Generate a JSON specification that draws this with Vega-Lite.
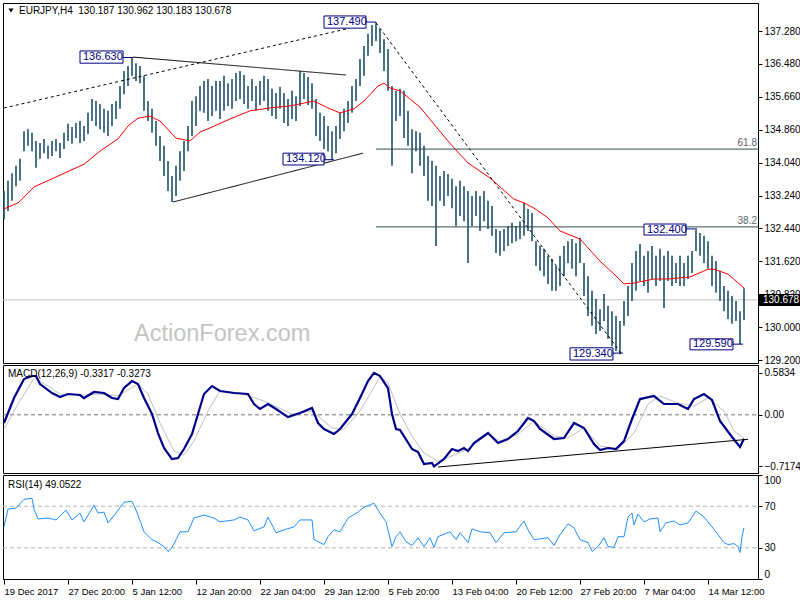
{
"$schema": "https://vega.github.io/schema/vega-lite/v6.json",
"padding": {"left": -1, "top": 2, "right": 0, "bottom": 0},
"background": "white",
"spacing": 2,
"bounds": "flush",
"config": {
  "view": {"stroke": "black", "strokeWidth": 1},
  "axis": {"domainColor": "black", "tickColor": "black", "labelColor": "black", "labelFont": "Liberation Sans", "labelFontSize": 10, "tickSize": 4, "labelPadding": 2, "grid": false, "labelOverlap": false},
  "text": {"font": "Liberation Sans"}
},
"datasets": {
  "bars": [
    {"i":0,"h":133.35,"l":132.66},{"i":2,"h":133.60,"l":132.86},{"i":4,"h":133.79,"l":133.11},{"i":6,"h":133.97,"l":133.47},{"i":8,"h":134.14,"l":133.60},
    {"i":10,"h":134.82,"l":134.33},{"i":12,"h":134.87,"l":134.46},{"i":14,"h":134.78,"l":134.33},{"i":16,"h":134.58,"l":133.92},{"i":18,"h":134.53,"l":134.14},
    {"i":20,"h":134.63,"l":134.28},{"i":22,"h":134.46,"l":134.14},{"i":24,"h":134.58,"l":134.21},{"i":26,"h":134.63,"l":134.33},{"i":28,"h":134.53,"l":134.16},
    {"i":30,"h":134.78,"l":134.38},{"i":32,"h":135.00,"l":134.58},{"i":34,"h":134.92,"l":134.51},{"i":36,"h":135.02,"l":134.65},{"i":38,"h":135.07,"l":134.53},
    {"i":40,"h":134.95,"l":134.58},{"i":42,"h":135.27,"l":134.75},{"i":44,"h":135.61,"l":135.07},{"i":46,"h":135.56,"l":134.95},{"i":48,"h":135.49,"l":134.87},
    {"i":50,"h":135.37,"l":134.78},{"i":52,"h":135.32,"l":134.70},{"i":54,"h":135.49,"l":134.95},{"i":56,"h":135.56,"l":135.12},{"i":58,"h":135.93,"l":135.37},
    {"i":60,"h":136.30,"l":135.73},{"i":62,"h":136.42,"l":135.93},{"i":64,"h":136.63,"l":136.18},{"i":66,"h":136.49,"l":136.05},{"i":68,"h":136.42,"l":136.00},
    {"i":70,"h":136.18,"l":135.32},{"i":72,"h":135.56,"l":135.07},{"i":74,"h":135.37,"l":134.78},{"i":76,"h":135.07,"l":134.46},{"i":78,"h":134.70,"l":134.09},
    {"i":80,"h":134.46,"l":133.72},{"i":82,"h":134.09,"l":133.35},{"i":84,"h":133.72,"l":133.08},{"i":86,"h":133.97,"l":133.23},{"i":88,"h":134.33,"l":133.60},
    {"i":90,"h":134.58,"l":133.84},{"i":92,"h":134.95,"l":134.33},{"i":94,"h":135.56,"l":134.70},{"i":96,"h":135.68,"l":134.95},{"i":98,"h":135.93,"l":135.32},
    {"i":100,"h":136.05,"l":135.27},{"i":102,"h":136.10,"l":135.07},{"i":104,"h":135.93,"l":135.19},{"i":106,"h":136.05,"l":135.32},{"i":108,"h":136.05,"l":135.12},
    {"i":110,"h":136.18,"l":135.32},{"i":112,"h":136.00,"l":135.44},{"i":114,"h":136.10,"l":135.37},{"i":116,"h":136.25,"l":135.56},{"i":118,"h":136.30,"l":135.61},
    {"i":120,"h":136.20,"l":135.49},{"i":122,"h":135.93,"l":135.37},{"i":124,"h":136.10,"l":135.56},{"i":126,"h":135.93,"l":135.32},{"i":128,"h":136.05,"l":135.46},
    {"i":130,"h":136.18,"l":135.56},{"i":132,"h":136.10,"l":135.32},{"i":134,"h":135.86,"l":135.19},{"i":136,"h":135.76,"l":135.12},{"i":138,"h":135.91,"l":135.37},
    {"i":140,"h":135.76,"l":135.02},{"i":142,"h":135.61,"l":134.95},{"i":144,"h":135.81,"l":135.12},{"i":146,"h":135.68,"l":135.07},{"i":148,"h":136.30,"l":135.44},
    {"i":150,"h":136.25,"l":135.61},{"i":152,"h":136.15,"l":135.46},{"i":154,"h":136.00,"l":135.37},{"i":156,"h":135.61,"l":134.70},{"i":158,"h":135.27,"l":134.58},
    {"i":160,"h":135.19,"l":134.38},{"i":162,"h":134.95,"l":134.33},{"i":164,"h":134.82,"l":134.12},{"i":166,"h":134.95,"l":134.28},{"i":168,"h":135.27,"l":134.63},
    {"i":170,"h":135.37,"l":134.82},{"i":172,"h":135.56,"l":135.02},{"i":174,"h":135.93,"l":135.27},{"i":176,"h":136.10,"l":135.56},{"i":178,"h":136.59,"l":135.93},
    {"i":180,"h":136.91,"l":136.18},{"i":182,"h":137.21,"l":136.67},{"i":184,"h":137.43,"l":136.91},{"i":186,"h":137.49,"l":137.03},{"i":188,"h":137.33,"l":136.74},
    {"i":190,"h":137.08,"l":136.30},{"i":192,"h":136.84,"l":135.81},{"i":194,"h":135.93,"l":133.97},{"i":196,"h":135.81,"l":135.07},{"i":198,"h":135.86,"l":135.19},
    {"i":200,"h":135.81,"l":134.65},{"i":202,"h":135.32,"l":134.46},{"i":204,"h":134.87,"l":133.79},{"i":206,"h":134.82,"l":134.33},{"i":208,"h":134.78,"l":133.97},
    {"i":210,"h":134.46,"l":133.72},{"i":212,"h":134.21,"l":133.11},{"i":214,"h":134.09,"l":132.98},{"i":216,"h":133.97,"l":132.00},{"i":218,"h":133.72,"l":133.11},
    {"i":220,"h":133.84,"l":132.98},{"i":222,"h":133.77,"l":133.23},{"i":224,"h":133.65,"l":132.93},{"i":226,"h":133.47,"l":132.49},{"i":228,"h":133.60,"l":132.74},
    {"i":230,"h":133.47,"l":132.61},{"i":232,"h":133.35,"l":131.58},{"i":234,"h":133.23,"l":132.49},{"i":236,"h":133.35,"l":132.74},{"i":238,"h":133.23,"l":132.37},
    {"i":240,"h":133.35,"l":132.61},{"i":242,"h":133.11,"l":132.42},{"i":244,"h":132.98,"l":132.25},{"i":246,"h":132.42,"l":131.83},{"i":248,"h":132.37,"l":131.76},
    {"i":250,"h":132.42,"l":131.88},{"i":252,"h":132.49,"l":132.00},{"i":254,"h":132.57,"l":132.07},{"i":256,"h":132.49,"l":132.12},{"i":258,"h":132.61,"l":132.17},
    {"i":260,"h":133.06,"l":132.25},{"i":262,"h":132.91,"l":132.37},{"i":264,"h":132.81,"l":132.12},{"i":266,"h":132.12,"l":131.51},{"i":268,"h":132.00,"l":131.39},
    {"i":270,"h":131.93,"l":131.26},{"i":272,"h":131.76,"l":131.07},{"i":274,"h":131.68,"l":130.90},{"i":276,"h":131.51,"l":130.90},{"i":278,"h":131.76,"l":131.02},
    {"i":280,"h":132.00,"l":131.26},{"i":282,"h":132.12,"l":131.58},{"i":284,"h":132.17,"l":131.44},{"i":286,"h":132.07,"l":131.26},{"i":288,"h":132.20,"l":131.58},
    {"i":290,"h":131.58,"l":130.77},{"i":292,"h":131.26,"l":130.28},{"i":294,"h":130.90,"l":130.04},{"i":296,"h":130.70,"l":129.84},{"i":298,"h":130.45,"l":129.91},
    {"i":300,"h":130.82,"l":130.16},{"i":302,"h":130.53,"l":129.72},{"i":304,"h":130.40,"l":129.54},{"i":306,"h":130.28,"l":129.42},{"i":308,"h":130.16,"l":129.34},
    {"i":310,"h":130.65,"l":130.04},{"i":312,"h":131.02,"l":130.28},{"i":314,"h":131.58,"l":130.65},{"i":316,"h":131.88,"l":130.90},{"i":318,"h":132.05,"l":131.14},
    {"i":320,"h":131.76,"l":131.02},{"i":322,"h":131.88,"l":130.85},{"i":324,"h":132.00,"l":131.19},{"i":326,"h":131.76,"l":131.02},{"i":328,"h":131.93,"l":131.14},
    {"i":330,"h":131.76,"l":130.48},{"i":332,"h":131.88,"l":131.14},{"i":334,"h":131.76,"l":131.02},{"i":336,"h":131.58,"l":131.09},{"i":338,"h":131.76,"l":131.02},
    {"i":340,"h":131.58,"l":131.02},{"i":342,"h":131.76,"l":131.19},{"i":344,"h":131.88,"l":131.34},{"i":346,"h":132.40,"l":131.88},{"i":348,"h":132.32,"l":131.76},
    {"i":350,"h":132.25,"l":131.58},{"i":352,"h":132.12,"l":131.44},{"i":354,"h":131.76,"l":131.02},{"i":356,"h":131.63,"l":130.85},{"i":358,"h":131.39,"l":130.65},
    {"i":360,"h":131.02,"l":130.40},{"i":362,"h":130.90,"l":130.21},{"i":364,"h":130.77,"l":130.09},{"i":366,"h":130.65,"l":130.16},{"i":368,"h":130.40,"l":129.59},
    {"i":370,"h":130.962,"l":130.183}
  ],
  "ma": [
    {"i":0,"p":132.91},{"i":7,"p":133.06},{"i":15,"p":133.45},{"i":28,"p":133.74},{"i":40,"p":134.01},{"i":48,"p":134.33},{"i":57,"p":134.63},{"i":62,"p":134.95},
    {"i":67,"p":135.14},{"i":73,"p":135.19},{"i":78,"p":135.07},{"i":86,"p":134.65},{"i":93,"p":134.58},{"i":98,"p":134.80},{"i":103,"p":134.90},{"i":113,"p":135.12},
    {"i":123,"p":135.32},{"i":133,"p":135.39},{"i":143,"p":135.44},{"i":155,"p":135.56},{"i":162,"p":135.39},{"i":168,"p":135.27},{"i":175,"p":135.37},{"i":180,"p":135.56},
    {"i":187,"p":135.93},{"i":190,"p":136.00},{"i":193,"p":135.88},{"i":198,"p":135.81},{"i":208,"p":135.41},{"i":215,"p":134.99},{"i":222,"p":134.58},{"i":225,"p":134.41},
    {"i":232,"p":134.04},{"i":243,"p":133.67},{"i":255,"p":133.15},{"i":260,"p":133.06},{"i":265,"p":132.93},{"i":272,"p":132.69},{"i":278,"p":132.37},{"i":288,"p":132.17},
    {"i":298,"p":131.63},{"i":305,"p":131.31},{"i":310,"p":131.07},{"i":315,"p":131.09},{"i":325,"p":131.19},{"i":332,"p":131.19},{"i":343,"p":131.24},{"i":352,"p":131.43},
    {"i":355,"p":131.43},{"i":362,"p":131.31},{"i":370,"p":130.97}
  ],
  "macd": [
    {"i":0,"v":-0.114},{"i":5,"v":0.233},{"i":10,"v":0.497},{"i":14,"v":0.539},{"i":16,"v":0.539},{"i":18,"v":0.428},{"i":24,"v":0.303},{"i":28,"v":0.247},
    {"i":32,"v":0.289},{"i":38,"v":0.275},{"i":40,"v":0.233},{"i":45,"v":0.317},{"i":50,"v":0.303},{"i":54,"v":0.233},{"i":57,"v":0.219},{"i":60,"v":0.372},
    {"i":64,"v":0.469},{"i":67,"v":0.428},{"i":70,"v":0.233},{"i":74,"v":0.011},{"i":77,"v":-0.253},{"i":80,"v":-0.461},{"i":84,"v":-0.614},{"i":87,"v":-0.600},
    {"i":90,"v":-0.475},{"i":94,"v":-0.267},{"i":97,"v":0.011},{"i":100,"v":0.289},{"i":104,"v":0.400},{"i":108,"v":0.331},{"i":115,"v":0.303},{"i":122,"v":0.289},
    {"i":125,"v":0.150},{"i":128,"v":0.081},{"i":132,"v":0.150},{"i":136,"v":0.081},{"i":142,"v":-0.031},{"i":148,"v":0.025},{"i":154,"v":0.094},{"i":157,"v":-0.114},
    {"i":160,"v":-0.197},{"i":165,"v":-0.267},{"i":168,"v":-0.197},{"i":174,"v":0.011},{"i":178,"v":0.233},{"i":182,"v":0.469},{"i":185,"v":0.583},{"i":188,"v":0.539},
    {"i":192,"v":0.372},{"i":194,"v":0.011},{"i":196,"v":-0.197},{"i":198,"v":-0.211},{"i":204,"v":-0.475},{"i":207,"v":-0.517},{"i":210,"v":-0.683},{"i":214,"v":-0.669},
    {"i":215,"v":-0.717},{"i":220,"v":-0.614},{"i":224,"v":-0.475},{"i":227,"v":-0.503},{"i":230,"v":-0.461},{"i":232,"v":-0.503},{"i":235,"v":-0.392},{"i":242,"v":-0.253},
    {"i":247,"v":-0.392},{"i":252,"v":-0.336},{"i":257,"v":-0.225},{"i":262,"v":-0.044},{"i":265,"v":-0.086},{"i":268,"v":-0.197},{"i":275,"v":-0.336},{"i":280,"v":-0.322},
    {"i":285,"v":-0.114},{"i":290,"v":-0.183},{"i":295,"v":-0.406},{"i":298,"v":-0.489},{"i":302,"v":-0.461},{"i":306,"v":-0.475},{"i":310,"v":-0.364},{"i":314,"v":-0.058},
    {"i":318,"v":0.219},{"i":325,"v":0.261},{"i":330,"v":0.150},{"i":337,"v":0.150},{"i":342,"v":0.081},{"i":345,"v":0.219},{"i":350,"v":0.289},{"i":354,"v":0.206},
    {"i":358,"v":-0.086},{"i":364,"v":-0.308},{"i":368,"v":-0.447},{"i":370,"v":-0.332}
  ],
  "sig": [
    {"i":0,"v":-0.197},{"i":7,"v":0.150},{"i":15,"v":0.511},{"i":22,"v":0.400},{"i":28,"v":0.289},{"i":40,"v":0.275},{"i":48,"v":0.289},{"i":57,"v":0.261},
    {"i":67,"v":0.428},{"i":72,"v":0.289},{"i":78,"v":-0.114},{"i":85,"v":-0.503},{"i":90,"v":-0.558},{"i":95,"v":-0.364},{"i":102,"v":0.053},{"i":108,"v":0.331},
    {"i":118,"v":0.303},{"i":130,"v":0.192},{"i":144,"v":0.011},{"i":154,"v":0.053},{"i":164,"v":-0.183},{"i":170,"v":-0.197},{"i":178,"v":0.053},{"i":188,"v":0.525},
    {"i":192,"v":0.442},{"i":198,"v":0.011},{"i":204,"v":-0.294},{"i":210,"v":-0.531},{"i":217,"v":-0.642},{"i":224,"v":-0.572},{"i":232,"v":-0.475},{"i":242,"v":-0.267},
    {"i":248,"v":-0.364},{"i":257,"v":-0.267},{"i":265,"v":-0.086},{"i":275,"v":-0.294},{"i":282,"v":-0.322},{"i":290,"v":-0.183},{"i":298,"v":-0.433},{"i":307,"v":-0.475},
    {"i":315,"v":-0.253},{"i":322,"v":0.150},{"i":328,"v":0.261},{"i":337,"v":0.164},{"i":345,"v":0.122},{"i":352,"v":0.233},{"i":360,"v":0.053},{"i":365,"v":-0.225},
    {"i":370,"v":-0.327}
  ],
  "rsi": [
    {"i":0,"r":50.1},{"i":2,"r":67.2},{"i":6,"r":68.1},{"i":10,"r":76.6},{"i":14,"r":77.6},{"i":15,"r":67.2},{"i":17,"r":57.7},{"i":22,"r":58.6},{"i":26,"r":56.8},
    {"i":31,"r":66.2},{"i":34,"r":56.8},{"i":38,"r":63.4},{"i":40,"r":54.9},{"i":45,"r":70.9},{"i":47,"r":63.4},{"i":50,"r":64.3},{"i":52,"r":53.9},{"i":56,"r":63.4},
    {"i":60,"r":73.8},{"i":64,"r":74.7},{"i":65,"r":70.9},{"i":67,"r":61.5},{"i":70,"r":45.4},{"i":74,"r":37.8},{"i":77,"r":35.0},{"i":80,"r":31.2},{"i":82,"r":26.5},
    {"i":84,"r":30.3},{"i":86,"r":37.8},{"i":88,"r":45.4},{"i":92,"r":45.4},{"i":95,"r":58.6},{"i":100,"r":61.5},{"i":105,"r":58.6},{"i":108,"r":54.9},{"i":115,"r":56.8},
    {"i":118,"r":59.6},{"i":122,"r":56.8},{"i":125,"r":46.3},{"i":130,"r":50.1},{"i":132,"r":59.6},{"i":136,"r":44.5},{"i":140,"r":47.3},{"i":145,"r":50.1},{"i":148,"r":56.8},
    {"i":154,"r":56.8},{"i":155,"r":37.8},{"i":160,"r":33.1},{"i":162,"r":40.7},{"i":165,"r":47.3},{"i":168,"r":45.4},{"i":172,"r":58.6},{"i":177,"r":64.3},{"i":180,"r":69.1},
    {"i":185,"r":72.8},{"i":188,"r":63.4},{"i":191,"r":54.9},{"i":194,"r":31.2},{"i":196,"r":40.7},{"i":198,"r":45.4},{"i":201,"r":35.9},{"i":204,"r":32.2},{"i":207,"r":39.7},
    {"i":210,"r":31.2},{"i":213,"r":39.7},{"i":215,"r":30.3},{"i":217,"r":40.7},{"i":223,"r":45.4},{"i":226,"r":37.8},{"i":228,"r":44.5},{"i":232,"r":35.0},{"i":234,"r":48.2},
    {"i":238,"r":45.4},{"i":243,"r":44.5},{"i":246,"r":35.0},{"i":250,"r":44.5},{"i":256,"r":45.4},{"i":260,"r":55.8},{"i":262,"r":47.3},{"i":265,"r":37.8},{"i":272,"r":39.7},
    {"i":275,"r":32.2},{"i":278,"r":42.6},{"i":282,"r":53.0},{"i":285,"r":49.2},{"i":288,"r":37.8},{"i":292,"r":35.0},{"i":294,"r":26.5},{"i":297,"r":31.2},{"i":300,"r":39.7},
    {"i":302,"r":31.2},{"i":305,"r":30.3},{"i":307,"r":40.7},{"i":310,"r":40.7},{"i":312,"r":59.6},{"i":314,"r":63.4},{"i":315,"r":52.0},{"i":317,"r":62.4},{"i":320,"r":54.9},
    {"i":323,"r":57.7},{"i":327,"r":58.6},{"i":328,"r":45.4},{"i":331,"r":53.9},{"i":335,"r":55.8},{"i":338,"r":52.0},{"i":342,"r":53.9},{"i":344,"r":59.6},{"i":346,"r":65.3},
    {"i":350,"r":59.6},{"i":354,"r":50.1},{"i":357,"r":42.6},{"i":360,"r":35.0},{"i":362,"r":33.1},{"i":365,"r":34.0},{"i":367,"r":31.2},{"i":368,"r":25.5},{"i":369,"r":40.7},
    {"i":370,"r":49.05}
  ],
  "segs": [
    {"i":0,"i2":171,"p":135.39,"p2":137.33,"k":"dash"},
    {"i":186,"i2":308.5,"p":137.48,"p2":129.37,"k":"dash"},
    {"i":64.5,"i2":171,"p":136.64,"p2":136.20,"k":"trend"},
    {"i":84.5,"i2":179.5,"p":133.08,"p2":134.28,"k":"trend"},
    {"i":186,"i2":377,"p":134.38,"p2":134.38,"k":"fib"},
    {"i":186,"i2":377,"p":132.47,"p2":132.47,"k":"fib"},
    {"i":181,"i2":186,"p":137.50,"p2":137.50,"k":"conn"},
    {"i":59.5,"i2":64.5,"p":136.63,"p2":136.63,"k":"conn"},
    {"i":160,"i2":165,"p":134.12,"p2":134.12,"k":"conn"},
    {"i":304.5,"i2":309.5,"p":129.37,"p2":129.37,"k":"conn"},
    {"i":341,"i2":346.5,"p":132.42,"p2":132.42,"k":"conn"},
    {"i":364.5,"i2":369.5,"p":129.59,"p2":129.59,"k":"conn"}
  ],
  "lab": [
    {"i":160,"i2":181,"p":137.65,"p2":137.35,"pc":137.50,"t":"137.490"},
    {"i":38,"i2":59.5,"p":136.79,"p2":136.49,"pc":136.64,"t":"136.630"},
    {"i":139.5,"i2":160,"p":134.28,"p2":133.99,"pc":134.135,"t":"134.120"},
    {"i":283,"i2":304.5,"p":129.50,"p2":129.20,"pc":129.35,"t":"129.340"},
    {"i":320,"i2":341,"p":132.54,"p2":132.27,"pc":132.405,"t":"132.400"},
    {"i":343,"i2":364.5,"p":129.72,"p2":129.45,"pc":129.585,"t":"129.590"}
  ]
},
"vconcat": [
  {
    "width": 755, "height": 360,
    "encoding": {
      "x": {"field": "i", "type": "quantitative", "scale": {"domain": [-0.5, 377], "nice": false, "zero": false}, "axis": null},
      "y": {"field": "p", "type": "quantitative", "title": null, "scale": {"domain": [129.127, 137.968], "nice": false, "zero": false},
            "axis": {"orient": "right", "title": null, "values": [137.28, 136.48, 135.66, 134.86, 134.04, 133.24, 132.44, 131.62, 130.82, 130.0, 129.2], "format": ".3f"}}
    },
    "layer": [
      {"data": {"values": [{"i": 65, "p": 129.67, "t": "ActionForex.com"}]},
       "mark": {"type": "text", "align": "left", "baseline": "alphabetic", "fontSize": 23.5, "color": "#c4c4c4"},
       "encoding": {"text": {"field": "t"}}},
      {"data": {"values": [{"i": -0.5, "i2": 377, "p": 130.678}]},
       "mark": {"type": "rule", "color": "#c0c0c0", "strokeWidth": 1},
       "encoding": {"x2": {"field": "i2"}}},
      {"data": {"name": "bars"},
       "mark": {"type": "rule", "color": "#1f4e66", "strokeWidth": 1.6},
       "encoding": {"y": {"field": "l", "type": "quantitative", "title": null}, "y2": {"field": "h"}}},
      {"data": {"name": "ma"},
       "mark": {"type": "line", "color": "#ff0000", "strokeWidth": 1},
       "encoding": {}},
      {"data": {"name": "segs"},
       "mark": {"type": "rule", "strokeWidth": 1},
       "encoding": {
         "x2": {"field": "i2"}, "y2": {"field": "p2"},
         "color": {"field": "k", "type": "nominal", "legend": null, "scale": {"domain": ["trend", "dash", "fib", "conn"], "range": ["#000000", "#000000", "#2f4f4f", "#000080"]}},
         "strokeDash": {"field": "k", "type": "nominal", "legend": null, "scale": {"domain": ["trend", "dash", "fib", "conn"], "range": [[1, 0], [3, 3], [1, 0], [1, 0]]}}
       }},
      {"data": {"name": "lab"},
       "mark": {"type": "rect", "fill": "white", "stroke": "#000080", "strokeWidth": 1},
       "encoding": {"x2": {"field": "i2"}, "y2": {"field": "p2"}}},
      {"data": {"name": "lab"},
       "mark": {"type": "text", "align": "left", "baseline": "middle", "dx": 3, "fontSize": 11, "color": "#000080"},
       "encoding": {"y": {"field": "pc", "type": "quantitative", "title": null}, "text": {"field": "t"}}},
      {"data": {"values": [{"i": 376.5, "p": 134.38, "t": "61.8"}, {"i": 376.5, "p": 132.47, "t": "38.2"}]},
       "mark": {"type": "text", "align": "right", "baseline": "bottom", "dy": -1, "fontSize": 10, "color": "#5a6666"},
       "encoding": {"text": {"field": "t"}}},
      {"data": {"values": [{"i": 7.5, "p": 137.77, "t": "EURJPY,H4\u00a0\u00a0130.187 130.962 130.183 130.678"}]},
       "mark": {"type": "text", "align": "left", "baseline": "middle", "fontSize": 10, "color": "black"},
       "encoding": {"text": {"field": "t"}}},
      {"data": {"values": [{"i": 3.5, "p": 137.78}]},
       "mark": {"type": "point", "shape": "triangle-down", "size": 26, "filled": true, "color": "black", "opacity": 1},
       "encoding": {}},
      {"data": {"values": [{"i": 377.5, "i2": 398.5, "p": 130.821, "p2": 130.526}]},
       "mark": {"type": "rect", "fill": "black"},
       "encoding": {"x2": {"field": "i2"}, "y2": {"field": "p2"}}},
      {"data": {"values": [{"i": 379.5, "p": 130.678, "t": "130.678"}]},
       "mark": {"type": "text", "align": "left", "baseline": "middle", "fontSize": 10, "color": "white"},
       "encoding": {"text": {"field": "t"}}}
    ]
  },
  {
    "width": 755, "height": 108,
    "encoding": {
      "x": {"field": "i", "type": "quantitative", "scale": {"domain": [-0.5, 377], "nice": false, "zero": false}, "axis": null},
      "y": {"field": "v", "type": "quantitative", "title": null, "scale": {"domain": [-0.808, 0.692], "nice": false, "zero": false},
            "axis": {"orient": "right", "title": null, "values": [0.5834, 0, -0.7174], "labelExpr": "datum.value == 0 ? '0.00' : format(datum.value, '.4f')"}}
    },
    "layer": [
      {"data": {"values": [{"i": -0.5, "i2": 377, "v": 0}]},
       "mark": {"type": "rule", "color": "#707070", "strokeDash": [4, 3], "strokeWidth": 1},
       "encoding": {"x2": {"field": "i2"}}},
      {"data": {"name": "sig"},
       "mark": {"type": "line", "color": "#c0c0c0", "strokeWidth": 1},
       "encoding": {}},
      {"data": {"name": "macd"},
       "mark": {"type": "line", "color": "#00008b", "strokeWidth": 2.2},
       "encoding": {}},
      {"data": {"values": [{"i": 217, "i2": 372, "v": -0.725, "v2": -0.34}]},
       "mark": {"type": "rule", "color": "black", "strokeWidth": 1},
       "encoding": {"x2": {"field": "i2"}, "y2": {"field": "v2"}}},
      {"data": {"values": [{"i": 2, "v": 0.567, "t": "MACD(12,26,9) -0.3317 -0.3273"}]},
       "mark": {"type": "text", "align": "left", "baseline": "middle", "fontSize": 10, "color": "black"},
       "encoding": {"text": {"field": "t"}}}
    ]
  },
  {
    "width": 755, "height": 104,
    "encoding": {
      "x": {"field": "i", "type": "quantitative", "title": null, "scale": {"domain": [-0.5, 377], "nice": false, "zero": false},
            "axis": {"title": null, "values": [0, 32, 64, 96, 128, 160, 192, 224, 256, 288, 320, 352], "labelAlign": "left", "labelFlush": false, "labelBound": false, "labelFontSize": 9.5, "tickSize": 5, "labelPadding": 2,
                     "labelExpr": "['19 Dec 2017','27 Dec 20:00','5 Jan 12:00','12 Jan 20:00','22 Jan 04:00','29 Jan 12:00','5 Feb 20:00','13 Feb 04:00','20 Feb 12:00','27 Feb 20:00','7 Mar 04:00','14 Mar 12:00'][round(datum.value/32)]"}},
      "y": {"field": "r", "type": "quantitative", "title": null, "scale": {"domain": [0, 100], "nice": false, "zero": false},
            "axis": {"orient": "right", "title": null, "values": [0, 30, 70, 100], "labelFlush": true}}
    },
    "layer": [
      {"data": {"values": [{"i": -0.5, "i2": 377, "r": 30}, {"i": -0.5, "i2": 377, "r": 70}]},
       "mark": {"type": "rule", "color": "#b4b4b4", "strokeDash": [4, 3], "strokeWidth": 1},
       "encoding": {"x2": {"field": "i2"}}},
      {"data": {"name": "rsi"},
       "mark": {"type": "line", "color": "#1e90ff", "strokeWidth": 1},
       "encoding": {}},
      {"data": {"values": [{"i": 2, "r": 90.4, "t": "RSI(14) 49.0522"}]},
       "mark": {"type": "text", "align": "left", "baseline": "middle", "fontSize": 10, "color": "black"},
       "encoding": {"text": {"field": "t"}}}
    ]
  }
]
}
